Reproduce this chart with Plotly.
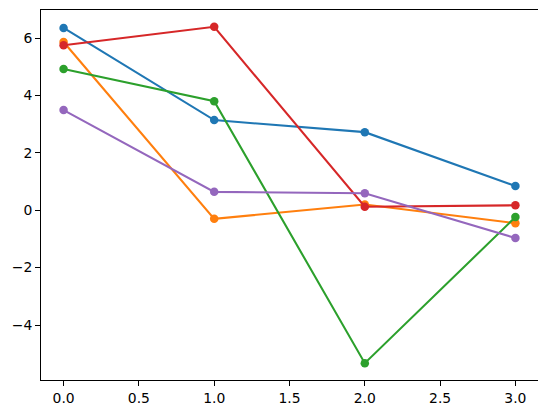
import plotly.graph_objects as go

x = [0, 1, 2, 3]
s_blue = [6.35, 3.14, 2.72, 0.84]
s_orange = [5.86, -0.30, 0.20, -0.45]
s_green = [4.92, 3.80, -5.33, -0.24]
s_red = [5.75, 6.39, 0.12, 0.17]
s_purple = [3.49, 0.64, 0.59, -0.97]

series = [s_blue, s_orange, s_green, s_red, s_purple]
colors = ["#1f77b4", "#ff7f0e", "#2ca02c", "#d62728", "#9467bd"]

fig = go.Figure()
for ys, c in zip(series, colors):
    fig.add_trace(go.Scatter(x=x, y=ys, mode="lines+markers",
                             line=dict(color=c, width=2.08),
                             marker=dict(color=c, size=8.5),
                             showlegend=False))

allv = [v for s in series for v in s]
ymin, ymax = min(allv), max(allv)
pad = 0.05 * (ymax - ymin)

axis_common = dict(showline=True, linecolor="black", linewidth=1.1, mirror=True,
                   ticks="outside", ticklen=4.9, tickwidth=1.1, tickcolor="black",
                   showgrid=False, zeroline=False,
                   tickfont=dict(family="DejaVu Sans", size=13.9, color="black"))

fig.update_layout(
    width=546, height=413,
    margin=dict(l=33, r=16, t=2, b=41),
    paper_bgcolor="white", plot_bgcolor="white",
    xaxis=dict(range=[-0.15, 3.15], tickvals=[0, 0.5, 1, 1.5, 2, 2.5, 3],
               tickformat=".1f", **axis_common),
    yaxis=dict(range=[ymin - pad, ymax + pad], tickvals=[-4, -2, 0, 2, 4, 6],
               **axis_common),
)

fig.write_html("out.html")
